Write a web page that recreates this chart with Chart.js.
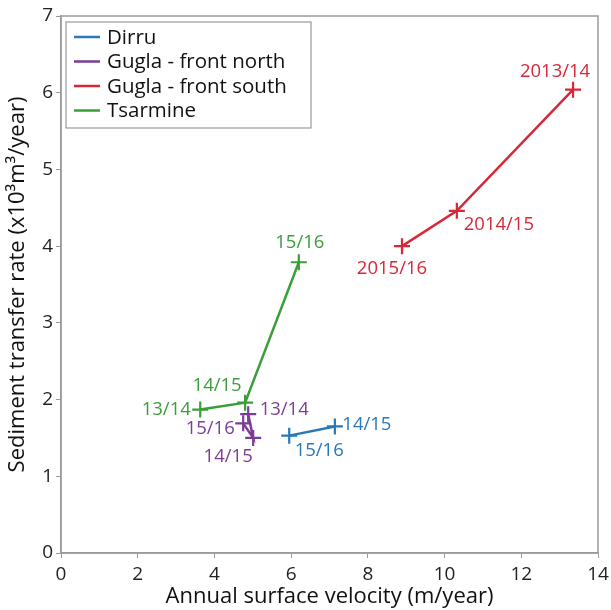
<!DOCTYPE html>
<html><head><meta charset="utf-8">
<script src="https://cdn.jsdelivr.net/npm/chart.js@4"></script>
<style>html,body{margin:0;padding:0;background:#fff}#w{width:611px;height:610px}</style>
</head><body><div id="w"><canvas id="c"></canvas></div>
<script>
const seriesNames = ['Dirru', 'Gugla - front north', 'Gugla - front south', 'Tsarmine'];
const dirruX = [7.14, 5.95];
const dirruY = [1.65, 1.53];
const dirruLabels = ['14/15', '15/16'];
const northX = [4.88, 5.01, 4.75];
const northY = [1.81, 1.50, 1.69];
const northLabels = ['13/14', '14/15', '15/16'];
const southX = [13.35, 10.32, 8.89];
const southY = [6.04, 4.46, 4.00];
const southLabels = ['2013/14', '2014/15', '2015/16'];
const tsarX = [3.63, 4.80, 6.20];
const tsarY = [1.87, 1.96, 3.79];
const tsarLabels = ['13/14', '14/15', '15/16'];
const xTicks = [0, 2, 4, 6, 8, 10, 12, 14];
const yTicks = [0, 1, 2, 3, 4, 5, 6, 7];

const colors = ['#2a78b8', '#7d3c98', '#d62839', '#3a9e3a'];
// label offsets (style only) in px relative to each point
const labelOffsets = [
  [[32, -2], [30, 15]],
  [[36, -4], [-25, 19], [-33, 5]],
  [[-18, -18], [42, 14], [-10, 23]],
  [[-34, 0], [-28, -17], [1, -20]]
];
const FONT = '"Open Sans", "Noto Sans", sans-serif';

function pts(xs, ys) { return xs.map((x, i) => ({x: x, y: ys[i]})); }
const allLabels = [dirruLabels, northLabels, southLabels, tsarLabels];
const datasets = [pts(dirruX, dirruY), pts(northX, northY), pts(southX, southY), pts(tsarX, tsarY)].map((d, i) => ({
  label: seriesNames[i], data: d, borderColor: colors[i], backgroundColor: colors[i],
  showLine: true, borderWidth: 2.5, pointStyle: 'cross', pointRadius: 8, pointBorderWidth: 2.2,
  pointHoverRadius: 8, tension: 0
}));

const decor = {
  id: 'decor',
  afterDatasetsDraw(chart) {
    const ctx = chart.ctx, a = chart.chartArea;
    ctx.save();
    ctx.strokeStyle = '#9a9a9a'; ctx.lineWidth = 1.5;
    ctx.strokeRect(a.left, a.top, a.right - a.left, a.bottom - a.top);
    ctx.font = '18.5px ' + FONT; ctx.textAlign = 'center'; ctx.textBaseline = 'middle';
    chart.data.datasets.forEach((ds, i) => {
      const meta = chart.getDatasetMeta(i);
      meta.data.forEach((p, j) => {
        ctx.fillStyle = colors[i];
        ctx.fillText(allLabels[i][j], p.x + labelOffsets[i][j][0], p.y + labelOffsets[i][j][1]);
      });
    });
    const lx = a.left + 5, ly = a.top + 6, lw = 245, lh = 106;
    ctx.fillStyle = '#fff'; ctx.fillRect(lx, ly, lw, lh);
    ctx.strokeStyle = '#9a9a9a'; ctx.lineWidth = 1.2; ctx.strokeRect(lx, ly, lw, lh);
    ctx.font = '20.5px ' + FONT; ctx.textAlign = 'left';
    seriesNames.forEach((n, i) => {
      const y = ly + 15 + i * 24.5;
      ctx.strokeStyle = colors[i]; ctx.lineWidth = 2.5;
      ctx.beginPath(); ctx.moveTo(lx + 8, y); ctx.lineTo(lx + 34, y); ctx.stroke();
      ctx.fillStyle = '#111'; ctx.fillText(n, lx + 41, y + 1);
    });
    ctx.restore();
  }
};

new Chart(document.getElementById('c'), {
  type: 'scatter',
  data: { datasets: datasets },
  options: {
    responsive: true, maintainAspectRatio: false, animation: false,
    layout: { padding: { top: 16, right: 13, left: 0, bottom: 0 } },
    plugins: { legend: { display: false }, tooltip: { enabled: false } },
    scales: {
      x: {
        type: 'linear', min: 0, max: 14,
        afterBuildTicks: s => { s.ticks = xTicks.map(v => ({value: v})); },
        afterFit: s => { s.height = 57; s.paddingRight = 0; },
        grid: { display: true, drawOnChartArea: false, drawTicks: true, tickLength: 5, color: '#9a9a9a' },
        border: { color: '#9a9a9a', width: 1.5 },
        ticks: { color: '#222', font: { size: 19, family: FONT }, padding: 5, maxRotation: 0 },
        title: { display: true, text: 'Annual surface velocity (m/year)', color: '#111', font: { size: 22, family: FONT }, padding: { top: -8, bottom: 0 } }
      },
      y: {
        type: 'linear', min: 0, max: 7,
        afterBuildTicks: s => { s.ticks = yTicks.map(v => ({value: v})); },
        afterFit: s => { s.width = 61; s.paddingTop = 0; s.paddingBottom = 0; },
        grid: { display: true, drawOnChartArea: false, drawTicks: true, tickLength: 5, color: '#9a9a9a' },
        border: { color: '#9a9a9a', width: 1.5 },
        ticks: { color: '#222', font: { size: 19, family: FONT }, padding: 3 },
        title: { display: true, text: 'Sediment transfer rate (x10³m³/year)', color: '#111', font: { size: 22, family: FONT }, padding: { top: 5, bottom: 2 } }
      }
    }
  },
  plugins: [decor]
});
</script></body></html>
